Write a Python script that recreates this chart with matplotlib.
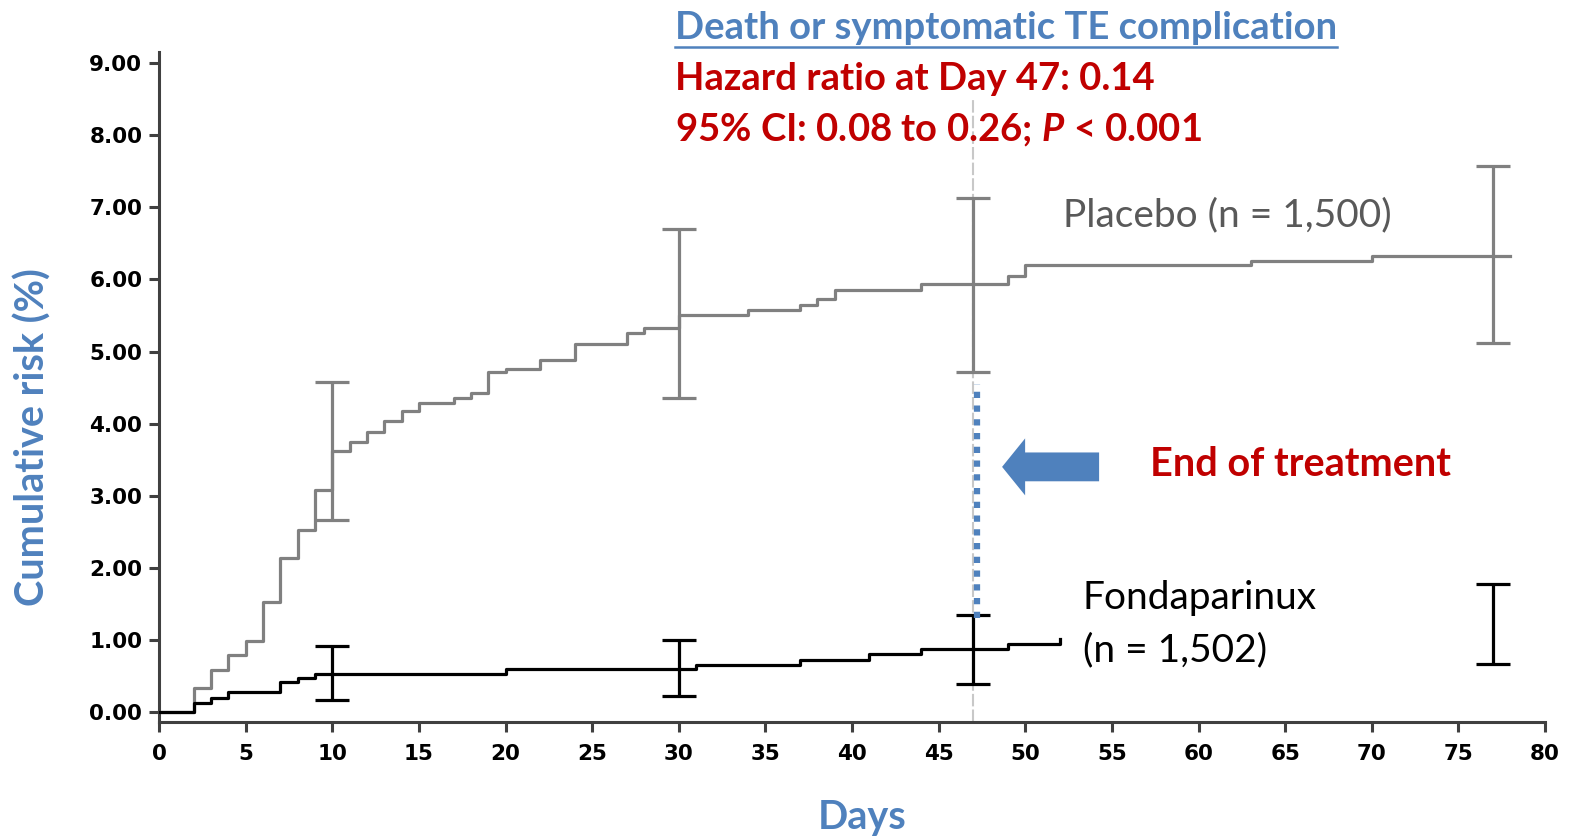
import matplotlib
matplotlib.use("Agg")
import matplotlib.pyplot as plt

# Kaplan-Meier style step data (day, cumulative risk %)
placebo_days = [0, 2, 3, 4, 5, 6, 7, 8, 9, 10, 11, 12, 13, 14, 15, 17, 18, 19, 20, 22,
                24, 27, 28, 30, 34, 37, 38, 39, 44, 49, 50, 63, 70, 78]
placebo_risk = [0.00, 0.33, 0.58, 0.79, 0.99, 1.52, 2.13, 2.53, 3.08, 3.62, 3.75, 3.89,
                4.03, 4.17, 4.29, 4.36, 4.43, 4.71, 4.76, 4.88, 5.11, 5.25, 5.32, 5.51,
                5.58, 5.65, 5.73, 5.85, 5.94, 6.05, 6.20, 6.25, 6.33, 6.33]

fonda_days = [0, 2, 3, 4, 7, 8, 9, 20, 31, 37, 41, 44, 49, 52]
fonda_risk = [0.00, 0.12, 0.20, 0.28, 0.41, 0.47, 0.53, 0.59, 0.65, 0.72, 0.80, 0.87, 0.94, 1.01]

# 95% confidence intervals
ci_days = [10, 30, 47, 77]
placebo_ci_mid = [3.62, 5.51, 5.94, 6.33]
placebo_ci_low = [2.67, 4.35, 4.72, 5.12]
placebo_ci_high = [4.58, 6.70, 7.13, 7.57]
fonda_ci_mid = [0.53, 0.59, 0.87, 1.22]
fonda_ci_low = [0.16, 0.22, 0.39, 0.67]
fonda_ci_high = [0.92, 1.00, 1.34, 1.78]

end_of_treatment = 47

BLUE = "#4f81bd"
RED = "#c00000"
GRAY = "#808080"

plt.rcParams["font.family"] = ["Lato", "DejaVu Sans"]
plt.rcParams["mathtext.fontset"] = "custom"
plt.rcParams["mathtext.rm"] = "Lato:bold"
plt.rcParams["mathtext.it"] = "Lato:bold:italic"

fig = plt.figure(figsize=(15.71, 8.38), dpi=100)
ax = fig.add_axes([0.1012, 0.1384, 0.8823, 0.7995])

ax.step(placebo_days, placebo_risk, where="post", color=GRAY, lw=2.3, zorder=3)
ax.step(fonda_days, fonda_risk, where="post", color="black", lw=2.3, zorder=4)

def ci_err(mid, low, high):
    return [[m - l for m, l in zip(mid, low)], [h - m for m, h in zip(mid, high)]]

ax.errorbar(ci_days, placebo_ci_mid, yerr=ci_err(placebo_ci_mid, placebo_ci_low, placebo_ci_high),
            fmt="none", ecolor=GRAY, elinewidth=2.3, capsize=12, capthick=2.3, zorder=3)
ax.errorbar(ci_days, fonda_ci_mid, yerr=ci_err(fonda_ci_mid, fonda_ci_low, fonda_ci_high),
            fmt="none", ecolor="black", elinewidth=2.3, capsize=12, capthick=2.3, zorder=4)

# end of treatment markers
ax.plot([end_of_treatment, end_of_treatment], [-0.14, 8.5], color="#c8c8c8", lw=1.5,
        dashes=(6, 1.5), clip_on=False, zorder=2)
ax.plot([end_of_treatment + 0.2, end_of_treatment + 0.2], [1.30, 4.55], color=BLUE, lw=4.5,
        linestyle=(0, (1, 1.2)), zorder=5)
ax.arrow(54.26, 3.40, -5.6, 0, width=0.40, head_width=0.79, head_length=1.33,
         length_includes_head=True, color=BLUE, lw=0, zorder=5)

ax.set_xlim(0, 80)
ax.set_ylim(-0.139, 9.154)
ax.set_xticks(range(0, 81, 5))
ax.set_yticks(range(0, 10))
ax.set_yticklabels(["%.2f" % v for v in range(0, 10)])
for s in ["top", "right"]:
    ax.spines[s].set_visible(False)
for s in ["left", "bottom"]:
    ax.spines[s].set_color("#404040")
    ax.spines[s].set_linewidth(2.2)
ax.tick_params(axis="both", direction="out", length=7, width=2.2, color="#404040")
ax.tick_params(axis="x", pad=9)
ax.tick_params(axis="y", pad=5)
for lab in ax.get_xticklabels() + ax.get_yticklabels():
    lab.set_family("DejaVu Sans")
    lab.set_fontweight("bold")
    lab.set_fontsize(15.5)

# annotations
title = ax.text(29.78, 9.49, "Death or symptomatic TE complication", color=BLUE,
                fontsize=27.5, fontweight="bold", va="center", ha="left")
ax.text(29.78, 8.78, "Hazard ratio at Day 47: 0.14", color=RED, fontsize=27.5,
        fontweight="bold", va="center", ha="left")
ax.text(29.78, 8.07, r"95% CI: 0.08 to 0.26; $\mathit{P}$ < 0.001", color=RED, fontsize=27.5,
        fontweight="bold", va="center", ha="left")
ax.text(52.18, 6.89, "Placebo (n = 1,500)", color="#595959", fontsize=28, va="center", ha="left")
ax.text(53.33, 1.58, "Fondaparinux", color="black", fontsize=28, va="center", ha="left")
ax.text(53.33, 0.86, "(n = 1,502)", color="black", fontsize=28, va="center", ha="left")
ax.text(57.2, 3.43, "End of treatment", color=RED, fontsize=28.5, fontweight="bold",
        va="center", ha="left")

fig.text(0.021, 0.478, "Cumulative risk (%)", color=BLUE, fontsize=28.5, fontweight="bold",
         rotation=90, va="center", ha="center")
fig.text(0.549, 0.024, "Days", color=BLUE, fontsize=28.5, fontweight="bold", va="center", ha="center")

# underline the title
fig.canvas.draw()
bb = title.get_window_extent().transformed(ax.transData.inverted())
ax.plot([bb.x0, bb.x1], [9.23, 9.23], color=BLUE, lw=1.8, clip_on=False)

fig.savefig("out.png", dpi=100)
